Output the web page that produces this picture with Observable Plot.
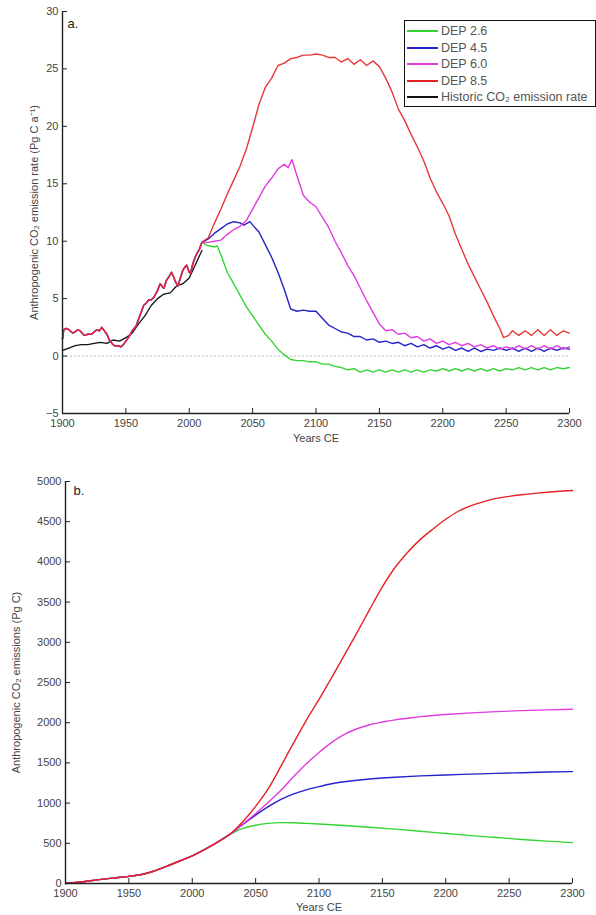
<!DOCTYPE html>
<html><head><meta charset="utf-8">
<script src="https://cdn.jsdelivr.net/npm/d3@7"></script>
<script src="https://cdn.jsdelivr.net/npm/@observablehq/plot@0.6"></script>
<style>
body{margin:0;background:#fff;font-family:"Liberation Sans",Arial,sans-serif;}
#wrap{position:relative;width:596px;height:915px;overflow:hidden;}
#wrap svg{display:block;}
.legend{position:absolute;left:404px;top:20px;width:190px;height:85px;border:1.5px solid #111;background:#fff;font-size:12.5px;color:#555;}
.legend .row{position:absolute;left:2px;height:16px;display:flex;align-items:center;white-space:nowrap;}
.legend .sw{display:inline-block;width:31px;height:2px;margin-right:3px;}
</style></head>
<body><div id="wrap"></div>
<script>
// ---------- Panel a: emission rate (Pg C a^-1) ----------
const seriesNames = ["DEP 2.6", "DEP 4.5", "DEP 6.0", "DEP 8.5", "Historic CO₂ emission rate"];
const seriesColors = ["#35d435", "#2424c8", "#e03ce0", "#e42222", "#111111"];
const xTicks = [1900, 1950, 2000, 2050, 2100, 2150, 2200, 2250, 2300];
const yTicksA = [-5, 0, 5, 10, 15, 20, 25, 30];
const yTicksB = [0, 500, 1000, 1500, 2000, 2500, 3000, 3500, 4000, 4500, 5000];

// model run shared by all scenarios up to 2010
const modelHist = [[1900,1.5],[1901,2.3],[1903,2.4],[1905,2.3],[1908,2.0],[1910,2.1],[1912,2.3],[1914,2.2],[1917,1.8],[1920,1.9],[1923,1.9],[1925,2.1],[1927,2.3],[1929,2.2],[1931,2.5],[1933,2.2],[1935,1.9],[1937,1.4],[1939,1.1],[1941,0.9],[1944,0.9],[1946,0.8],[1948,1.0],[1950,1.3],[1952,1.6],[1955,2.2],[1958,2.6],[1960,3.2],[1962,3.8],[1964,4.4],[1966,4.6],[1968,4.9],[1970,4.9],[1972,5.1],[1974,5.5],[1975,5.7],[1977,6.3],[1979,6.0],[1980,5.9],[1982,6.6],[1984,6.9],[1986,7.3],[1988,6.8],[1989,6.5],[1991,6.1],[1993,6.8],[1995,7.5],[1997,7.8],[1998,7.9],[2000,7.3],[2001,7.2],[2003,8.1],[2005,8.7],[2008,9.3],[2010,9.9]];

const historic = [[1900,0.5],[1905,0.7],[1910,0.9],[1915,1.0],[1920,1.0],[1925,1.1],[1930,1.2],[1935,1.1],[1940,1.4],[1945,1.3],[1950,1.6],[1955,2.0],[1960,2.8],[1965,3.5],[1970,4.4],[1975,5.0],[1980,5.4],[1985,5.5],[1990,6.1],[1995,6.3],[2000,6.8],[2005,8.0],[2010,9.2]];

const rate26 = [[2015,9.6],[2020,9.5],[2022,9.6],[2025,8.8],[2030,7.3],[2035,6.3],[2040,5.3],[2045,4.3],[2050,3.5],[2055,2.7],[2060,1.9],[2065,1.3],[2070,0.6],[2075,0.1],[2080,-0.3],[2085,-0.4],[2090,-0.4],[2095,-0.5],[2100,-0.5],[2105,-0.7],[2110,-0.7],[2115,-0.9],[2120,-1.0],[2125,-1.2],[2130,-1.1],[2135,-1.4],[2140,-1.2],[2145,-1.4],[2150,-1.2],[2155,-1.4],[2160,-1.2],[2165,-1.4],[2170,-1.2],[2175,-1.4],[2180,-1.2],[2185,-1.4],[2190,-1.2],[2195,-1.3],[2200,-1.1],[2205,-1.3],[2210,-1.1],[2215,-1.3],[2220,-1.1],[2225,-1.3],[2230,-1.1],[2235,-1.3],[2240,-1.1],[2245,-1.3],[2250,-1.1],[2255,-1.2],[2260,-1.0],[2265,-1.2],[2270,-1.0],[2275,-1.2],[2280,-1.0],[2285,-1.2],[2290,-1.0],[2295,-1.1],[2300,-1.0]];

const rate45 = [[2015,10.2],[2020,10.7],[2025,11.1],[2030,11.5],[2035,11.7],[2040,11.6],[2043,11.4],[2048,11.7],[2050,11.4],[2055,10.8],[2060,9.7],[2065,8.6],[2070,7.3],[2075,5.8],[2080,4.1],[2085,3.9],[2090,4.0],[2095,3.9],[2100,3.9],[2105,3.3],[2110,2.7],[2115,2.4],[2120,2.1],[2125,2.0],[2130,1.7],[2135,1.7],[2140,1.4],[2145,1.5],[2150,1.2],[2155,1.3],[2160,1.1],[2165,1.2],[2170,0.9],[2175,1.1],[2180,0.8],[2185,1.0],[2190,0.7],[2195,0.9],[2200,0.6],[2205,0.8],[2210,0.5],[2215,0.7],[2220,0.4],[2225,0.7],[2230,0.4],[2235,0.6],[2240,0.5],[2245,0.7],[2250,0.5],[2255,0.7],[2260,0.4],[2265,0.7],[2270,0.4],[2275,0.7],[2280,0.4],[2285,0.7],[2290,0.5],[2295,0.7],[2300,0.6]];

const rate60 = [[2015,9.9],[2020,10.0],[2025,10.1],[2030,10.6],[2035,11.0],[2040,11.3],[2045,11.8],[2050,12.8],[2055,13.8],[2060,14.8],[2065,15.5],[2070,16.3],[2075,16.7],[2078,16.4],[2081,17.1],[2085,15.7],[2090,14.0],[2095,13.4],[2100,13.0],[2105,12.1],[2110,11.2],[2115,10.0],[2120,9.0],[2125,7.9],[2130,7.0],[2135,5.9],[2140,4.8],[2145,3.8],[2150,2.8],[2155,2.2],[2160,2.3],[2165,1.9],[2170,2.0],[2175,1.6],[2180,1.7],[2185,1.3],[2190,1.5],[2195,1.1],[2200,1.3],[2205,1.0],[2210,1.2],[2215,0.9],[2220,1.1],[2225,0.8],[2230,1.0],[2235,0.7],[2240,0.9],[2245,0.6],[2250,0.8],[2255,0.6],[2260,0.9],[2265,0.6],[2270,0.9],[2275,0.6],[2280,0.9],[2285,0.6],[2290,0.9],[2295,0.6],[2300,0.8]];

const rate85 = [[2015,10.3],[2020,11.6],[2025,12.8],[2030,14.1],[2035,15.3],[2040,16.5],[2045,18.0],[2050,19.9],[2055,21.9],[2060,23.4],[2065,24.2],[2070,25.3],[2075,25.5],[2080,25.9],[2085,26.0],[2090,26.2],[2095,26.2],[2100,26.3],[2105,26.2],[2110,26.0],[2115,26.0],[2120,25.6],[2125,25.9],[2130,25.4],[2135,25.8],[2140,25.3],[2145,25.7],[2150,25.2],[2155,24.2],[2160,23.0],[2165,21.5],[2170,20.5],[2175,19.3],[2180,18.2],[2185,17.0],[2190,15.5],[2195,14.3],[2200,13.3],[2205,12.2],[2210,10.6],[2215,9.3],[2220,8.0],[2225,6.9],[2230,5.8],[2235,4.7],[2240,3.5],[2245,2.4],[2248,1.6],[2252,1.8],[2255,2.2],[2260,1.8],[2265,2.2],[2270,1.8],[2275,2.3],[2280,1.8],[2285,2.3],[2290,1.8],[2295,2.2],[2300,2.0]];

// ---------- Panel b: cumulative emissions (Pg C) ----------
const cumHist = [[1900,0],[1910,15],[1920,35],[1930,55],[1940,72],[1950,88],[1960,112],[1970,155],[1980,215],[1990,280],[2000,345],[2010,425],[2020,515],[2030,615]];
const cum26 = [[2040,685],[2050,725],[2060,748],[2070,757],[2080,755],[2090,748],[2100,740],[2120,722],[2140,700],[2160,676],[2180,650],[2200,622],[2220,596],[2240,572],[2260,548],[2280,527],[2300,508]];
const cum45 = [[2040,735],[2050,850],[2060,955],[2070,1045],[2080,1115],[2090,1165],[2100,1205],[2110,1240],[2120,1265],[2130,1285],[2140,1300],[2150,1312],[2160,1322],[2180,1338],[2200,1350],[2220,1360],[2240,1370],[2260,1378],[2280,1386],[2300,1392]];
const cum60 = [[2040,740],[2050,870],[2060,1010],[2070,1160],[2080,1330],[2090,1490],[2100,1630],[2110,1755],[2120,1855],[2130,1925],[2140,1975],[2150,2008],[2160,2035],[2170,2055],[2180,2075],[2190,2090],[2200,2102],[2220,2122],[2240,2138],[2260,2150],[2280,2160],[2300,2168]];
const cum85 = [[2040,770],[2050,960],[2060,1180],[2070,1460],[2080,1750],[2090,2030],[2100,2290],[2110,2560],[2120,2840],[2130,3120],[2140,3410],[2150,3690],[2160,3930],[2170,4120],[2180,4280],[2190,4410],[2200,4530],[2210,4630],[2220,4700],[2230,4750],[2240,4790],[2250,4815],[2260,4835],[2270,4852],[2280,4866],[2290,4878],[2300,4888]];

const font = "Liberation Sans, Arial, Helvetica, sans-serif";
const axisColor = "#222";
const X = d => d[0], Y = d => d[1];
const fmt = d => d < 0 ? "\u2212" + Math.abs(d) : String(d);

function frameMarks(yTicks, yLabel, yLabelOffset, xLabelOffset, letter, letterDx, letterDy) {
  return [
    Plot.ruleX([1900], {stroke: axisColor, strokeWidth: 1.4}),
    Plot.ruleY([yTicks[0]], {stroke: axisColor, strokeWidth: 1.4}),
    // inward tick marks
    Plot.axisX({ticks: xTicks, tickSize: 5, dy: -5, tickFormat: () => "", label: null, stroke: axisColor}),
    Plot.axisY({ticks: yTicks, tickSize: 5, dx: 5, tickFormat: () => "", label: null, stroke: axisColor}),
    // tick labels + titles
    Plot.axisX({ticks: xTicks, tickSize: 0, tickPadding: 6, tickFormat: fmt, fontSize: 11, fill: "#444",
      label: "Years CE", labelAnchor: "center", labelArrow: "none", labelOffset: xLabelOffset}),
    Plot.axisY({ticks: yTicks, tickSize: 0, tickPadding: 4, tickFormat: fmt, fontSize: 11, fill: "#444",
      label: yLabel, labelAnchor: "center", labelArrow: "none", labelOffset: yLabelOffset}),
    Plot.text([letter], {frameAnchor: "top-left", dx: letterDx, dy: letterDy, lineAnchor: "middle", textAnchor: "start", fontSize: 13, fill: "#222"})
  ];
}

const chartA = Plot.plot({
  width: 596, height: 445,
  marginLeft: 62, marginRight: 27, marginTop: 11, marginBottom: 32,
  style: {fontFamily: font, fontSize: "11px", color: "#444", background: "#fff"},
  x: {domain: [1900, 2300]},
  y: {domain: [-5, 30]},
  marks: [
    Plot.ruleY([0], {stroke: "#bbb", strokeDasharray: "2,2"}),
    Plot.line(historic, {x: X, y: Y, stroke: seriesColors[4], strokeWidth: 1.3}),
    Plot.line(modelHist.concat(rate26), {x: X, y: Y, stroke: seriesColors[0], strokeWidth: 1.4}),
    Plot.line(modelHist.concat(rate45), {x: X, y: Y, stroke: seriesColors[1], strokeWidth: 1.4}),
    Plot.line(modelHist.concat(rate60), {x: X, y: Y, stroke: seriesColors[2], strokeWidth: 1.4}),
    Plot.line(modelHist.concat(rate85), {x: X, y: Y, stroke: seriesColors[3], strokeWidth: 1.4, strokeOpacity: 0.9}),
    ...frameMarks(yTicksA, "Anthropogenic CO₂ emission rate (Pg C a⁻¹)", 32, 28, "a.", 5, 12)
  ]
});

const chartB = Plot.plot({
  width: 596, height: 470,
  marginLeft: 65, marginRight: 24, marginTop: 36, marginBottom: 32,
  style: {fontFamily: font, fontSize: "11px", color: "#444", background: "#fff"},
  x: {domain: [1900, 2300]},
  y: {domain: [0, 5000]},
  marks: [
    Plot.line(cumHist.concat(cum26), {x: X, y: Y, stroke: seriesColors[0], strokeWidth: 1.4, curve: "monotone-x"}),
    Plot.line(cumHist.concat(cum45), {x: X, y: Y, stroke: seriesColors[1], strokeWidth: 1.4, curve: "monotone-x"}),
    Plot.line(cumHist.concat(cum60), {x: X, y: Y, stroke: seriesColors[2], strokeWidth: 1.4, curve: "monotone-x"}),
    Plot.line(cumHist.concat(cum85), {x: X, y: Y, stroke: seriesColors[3], strokeWidth: 1.4, curve: "monotone-x"}),
    ...frameMarks(yTicksB, "Anthropogenic CO₂ emissions (Pg C)", 53, 27, "b.", 8, 9)
  ]
});

const wrap = document.getElementById("wrap");
wrap.appendChild(chartA);
wrap.appendChild(chartB);

// legend (inside panel a, top right)
const legend = document.createElement("div");
legend.className = "legend";
seriesNames.forEach((name, i) => {
  const row = document.createElement("div");
  row.className = "row";
  row.style.top = Math.round(2 + i * 16.6) + "px";
  const sw = document.createElement("span");
  sw.className = "sw";
  sw.style.background = seriesColors[i];
  const tx = document.createElement("span");
  tx.textContent = name;
  row.appendChild(sw); row.appendChild(tx);
  legend.appendChild(row);
});
wrap.appendChild(legend);
</script>
</body></html>
